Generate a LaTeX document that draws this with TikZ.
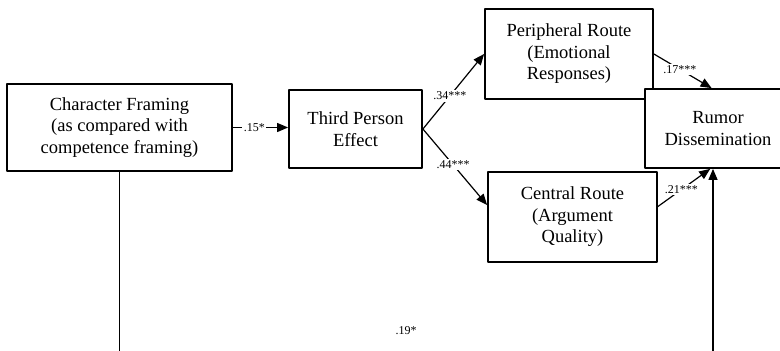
\documentclass[tikz,border=0pt]{standalone}
\usepackage{fontspec}
\setmainfont{Liberation Serif}
\usetikzlibrary{arrows.meta}

\begin{document}
\begin{tikzpicture}[line cap=round,line join=round,>={Triangle[length=11pt,width=9pt]},x=1pt,y=-1pt,
	box/.style={draw,fill=white,line width=1.8pt,align=center,inner sep=0pt,font=\fontsize{18.5}{21.5}\selectfont},
	coef/.style={fill=white,inner sep=1.5pt,font=\fontsize{12}{14}\selectfont},
	link/.style={line width=1.2pt}]
			\useasboundingbox (0,0) rectangle (780,351);
			% boxes
			\node [box,minimum width=225pt,minimum height=87pt] (frame) at (119.5,127.5) {Character Framing\\(as compared with\\competence framing)};
			\node [box,minimum width=133pt,minimum height=78pt] (tpe) at (355.5,129) {Third Person\\Effect};
			\node [box,minimum width=168pt,minimum height=90pt] (periph) at (569,54) {Peripheral Route\\(Emotional\\Responses)};
			\node [box,minimum width=169pt,minimum height=90pt] (central) at (572.5,217) {Central Route\\(Argument\\Quality)};
			\node [box,minimum width=146pt,minimum height=79pt] (rumor) at (718,128.5) {Rumor\\Dissemination};
			% ends of the direct path (below the picture)
			\coordinate (fbot) at (119.5,351);
			\coordinate (rbot) at (713,351);
			% paths
			\draw [link,->] (frame.east) -- node [coef,pos=.39] {.15*} (frame.east -| tpe.west);
			\draw [link,->] (tpe.east) -- node [coef,pos=.44] {.34***} (periph.west);
			\draw [link,->] (tpe.east) -- node [coef,pos=.47] {.44***} (central.172);
			\draw [link,->] (periph.east) -- node [coef,pos=.45] {.17***} (rumor.99);
			\draw [link,->] (central.7) -- node [coef,pos=.45] {.21***} (rumor.259);
			\draw [link] (frame.south) -- (fbot);
			\draw [link,->] (rbot) -- (rbot |- rumor.south);
			\node [coef] (direct) at (406,331) {.19*};
		\end{tikzpicture}
\end{document}
